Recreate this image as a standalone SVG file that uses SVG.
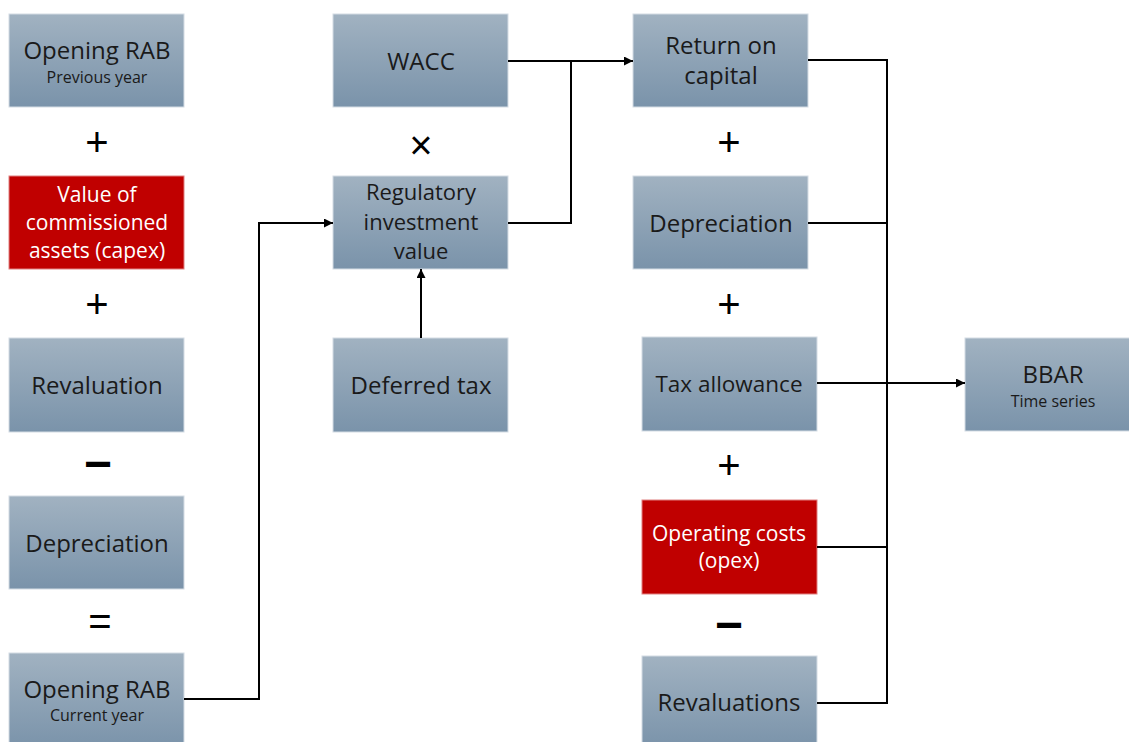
<svg xmlns="http://www.w3.org/2000/svg" width="1129" height="742" viewBox="0 0 1129 742">
<defs>
<linearGradient id="blue" x1="0" y1="0" x2="0" y2="1">
<stop offset="0" stop-color="#a1b2c1"/>
<stop offset="1" stop-color="#7a93aa"/>
</linearGradient>
<marker id="arr" viewBox="0 0 10 10" refX="10" refY="5" markerWidth="9" markerHeight="9" markerUnits="userSpaceOnUse" orient="auto">
<path d="M0,0 L10,5 L0,10 Z" fill="#000"/>
</marker>
<style>
.b{fill:url(#blue);stroke:#d4dce4;stroke-width:1}
.r{fill:#c00000;stroke:#e08080;stroke-width:1}
text{font-family:"Open Sans","Liberation Sans",sans-serif;text-anchor:middle}
.t{fill:#1a1a1a;font-size:24px}
.s{fill:#1a1a1a;font-size:16px}
.w{fill:#ffffff;font-size:21px}
.op{fill:#000;font-family:"Liberation Sans",sans-serif;font-size:40px}
.m{fill:#000;font-family:"Liberation Sans",sans-serif;font-size:48px;font-weight:bold}
.c{fill:none;stroke:#000;stroke-width:2}
</style>
</defs>
<rect width="1129" height="742" fill="#ffffff"/>

<g id="opening-rab-previous">
<rect class="b" x="9" y="14" width="175" height="93"/>
<text class="t" x="97" y="59">Opening RAB</text>
<text class="s" x="97" y="83">Previous year</text>
</g>
<g id="capex">
<rect class="r" x="9" y="176" width="175" height="93"/>
<text class="w" x="97" y="202">Value of</text>
<text class="w" x="97" y="230">commissioned</text>
<text class="w" x="97" y="258">assets (capex)</text>
</g>
<g id="revaluation">
<rect class="b" x="9" y="338" width="175" height="94"/>
<text class="t" x="97" y="394">Revaluation</text>
</g>
<g id="depreciation-left">
<rect class="b" x="9" y="496" width="175" height="93"/>
<text class="t" x="97" y="552">Depreciation</text>
</g>
<g id="opening-rab-current">
<rect class="b" x="9" y="653" width="175" height="95"/>
<text class="t" x="97" y="698">Opening RAB</text>
<text class="s" x="97" y="721">Current year</text>
</g>

<g id="wacc">
<rect class="b" x="333" y="14" width="175" height="93"/>
<text class="t" x="421" y="70">WACC</text>
</g>
<g id="regulatory-investment-value">
<rect class="b" x="333" y="176" width="175" height="93"/>
<text class="t" x="421" y="200" style="font-size:22px">Regulatory</text>
<text class="t" x="421" y="230" style="font-size:22px">investment</text>
<text class="t" x="421" y="259" style="font-size:22px">value</text>
</g>
<g id="deferred-tax">
<rect class="b" x="333" y="338" width="175" height="94"/>
<text class="t" x="421" y="394">Deferred tax</text>
</g>

<g id="return-on-capital">
<rect class="b" x="633" y="14" width="175" height="93"/>
<text class="t" x="721" y="54">Return on</text>
<text class="t" x="721" y="84">capital</text>
</g>
<g id="depreciation-right">
<rect class="b" x="633" y="176" width="175" height="93"/>
<text class="t" x="721" y="232">Depreciation</text>
</g>
<g id="tax-allowance">
<rect class="b" x="642" y="337" width="175" height="94"/>
<text class="t" x="729" y="392" style="font-size:22.5px">Tax allowance</text>
</g>
<g id="opex">
<rect class="r" x="642" y="500" width="175" height="94"/>
<text class="w" x="729" y="541">Operating costs</text>
<text class="w" x="729" y="568">(opex)</text>
</g>
<g id="revaluations">
<rect class="b" x="642" y="656" width="175" height="92"/>
<text class="t" x="729" y="711">Revaluations</text>
</g>
<g id="bbar">
<rect class="b" x="965" y="338" width="170" height="93"/>
<text class="t" x="1053" y="383">BBAR</text>
<text class="s" x="1053" y="407">Time series</text>
</g>

<g id="operators">
<text class="op" x="97" y="156">+</text>
<text class="op" x="97" y="318">+</text>
<text class="m" x="98" y="480">−</text>
<text class="op" x="100" y="635">=</text>
<text class="op" x="421" y="159">×</text>
<text class="op" x="729" y="156">+</text>
<text class="op" x="729" y="318">+</text>
<text class="op" x="729" y="479">+</text>
<text class="m" x="729" y="641">−</text>
</g>

<g id="connectors">
<path class="c" d="M508,61 H633" marker-end="url(#arr)"/>
<path class="c" d="M508,223 H571 V61"/>
<path class="c" d="M184,699 H259 V223 H333" marker-end="url(#arr)"/>
<path class="c" d="M421,338 V269" marker-end="url(#arr)"/>
<path class="c" d="M808,60 H887 V703 H817"/>
<path class="c" d="M808,223 H887"/>
<path class="c" d="M817,547 H887"/>
<path class="c" d="M817,383 H965" marker-end="url(#arr)"/>
</g>
</svg>
